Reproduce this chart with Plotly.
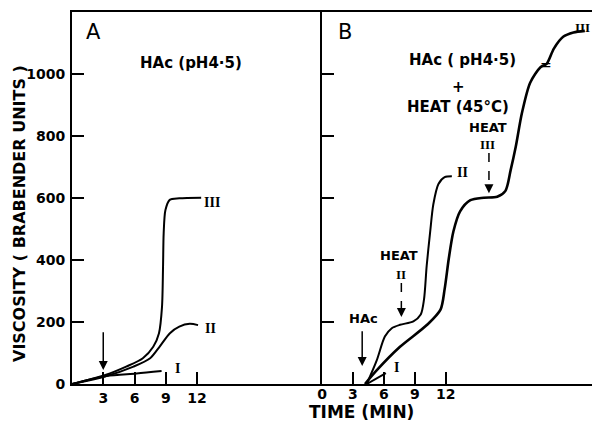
import plotly.graph_objects as go

# ---------------- data ----------------
# Panel A: HAc (pH 4.5)
a_t_III = [0, 3.2, 5.2, 6.8, 7.8, 8.35, 8.64, 8.74, 8.8, 8.97, 9.38, 10.3, 12.4]
a_v_III = [0, 29, 56, 83, 120, 164, 249, 378, 486, 561, 594, 599, 601]
a_t_II = [0, 3.16, 5.9, 7.5, 8.4, 9.4, 10.3, 11.3, 12.1]
a_v_II = [0, 24, 56, 83, 120, 164, 185, 194, 190]
a_t_I = [0, 3.3, 6.2, 8.6]
a_v_I = [0, 26, 34, 42]

# Panel B: HAc (pH 4.5) + heat (45 C)
b_t_III = [4.17, 5.3, 7.57, 10.2, 11.5, 11.9, 12.3, 12.75, 13.4, 14.4, 15.7, 17.0,
           17.8, 18.3, 18.8, 19.4, 20.2, 21.2, 21.8, 22.5, 23.4, 24.4, 25.5]
b_v_III = [0, 44, 120, 191, 240, 306, 404, 492, 557, 593, 601, 604,
           623, 689, 765, 874, 972, 1022, 1033, 1082, 1120, 1134, 1139]
b_t_II = [4.34, 5.31, 6.1, 6.77, 7.57, 8.87, 9.58, 9.9, 10.16, 10.5, 10.8, 11.3, 11.9, 12.6]
b_v_II = [0, 76, 153, 180, 191, 202, 224, 273, 382, 492, 579, 645, 667, 670]
b_t_I = [4.34, 6.2]
b_v_I = [0, 35]

y_ticks = [0, 200, 400, 600, 800, 1000]
a_x_ticks = [3, 6, 9, 12]
b_x_ticks = [0, 3, 6, 9, 12]

FONT = "DejaVu Sans"
SERIF = "Liberation Serif"

fig = go.Figure()

def curve(t, v, xa, ya, w):
    fig.add_trace(go.Scatter(x=t, y=v, xaxis=xa, yaxis=ya, mode="lines",
                             line=dict(color="black", width=w, shape="spline", smoothing=0.8),
                             showlegend=False, hoverinfo="skip"))

curve(a_t_III, a_v_III, "x", "y", 2)
curve(a_t_II, a_v_II, "x", "y", 2)
curve(a_t_I, a_v_I, "x", "y", 2)
curve(b_t_III, b_v_III, "x2", "y2", 2.6)
curve(b_t_II, b_v_II, "x2", "y2", 2)
curve(b_t_I, b_v_I, "x2", "y2", 2)

ydom = [39 / 423, 411 / 423]
axis_common = dict(showgrid=False, zeroline=False, showline=True, linecolor="black",
                   linewidth=2, ticks="inside", ticklen=12, tickwidth=2, tickcolor="black",
                   automargin=False,
                   tickfont=dict(family=FONT, size=14, color="black", weight="bold"))

fig.update_layout(
    width=592, height=423,
    margin=dict(l=0, r=0, t=0, b=0, pad=0),
    paper_bgcolor="white", plot_bgcolor="white",
    xaxis=dict(domain=[72 / 592, 322 / 592], range=[0, 24], anchor="y", mirror=True,
               tickvals=a_x_ticks, ticktext=[str(v) for v in a_x_ticks],
               ticklabelstandoff=0, **axis_common),
    yaxis=dict(domain=ydom, range=[0, 1200], anchor="x",
               tickvals=y_ticks, ticktext=[str(v) for v in y_ticks],
               ticklabelstandoff=2, **axis_common),
    xaxis2=dict(domain=[322 / 592, 1.0], range=[0, 26.2], anchor="y2", mirror=True,
                tickvals=b_x_ticks, ticktext=[str(v) for v in b_x_ticks],
                ticklabelstandoff=-4, **axis_common),
    yaxis2=dict(domain=ydom, range=[0, 1200], anchor="x2",
                tickvals=y_ticks, showticklabels=False, **axis_common),
)

ann = []

def txt(x, y, s, xref="x", yref="y", size=14, fam=FONT, bold=True, xanchor="center"):
    ann.append(dict(x=x, y=y, xref=xref, yref=yref, text=s, showarrow=False,
                    xanchor=xanchor, yanchor="middle",
                    font=dict(family=fam, size=size, color="black",
                              weight="bold" if bold else "normal")))

def arrow(x, y_tip, y_tail, xref, yref):
    ann.append(dict(x=x, y=y_tip, ax=x, ay=y_tail, xref=xref, yref=yref,
                    axref=xref, ayref=yref, text="", showarrow=True,
                    arrowhead=2, arrowsize=1.2, arrowwidth=1.5, arrowcolor="black"))

# axis titles
ann.append(dict(x=20 / 592, y=1 - 214 / 423, xref="paper", yref="paper",
                xanchor="center", yanchor="middle",
                text="VISCOSITY ( BRABENDER UNITS )", textangle=-90, showarrow=False,
                font=dict(family=FONT, size=16, color="black", weight="bold")))
ann.append(dict(x=361 / 592, y=1 - 412 / 423, xref="paper", yref="paper",
                xanchor="center", yanchor="middle",
                text="TIME (MIN)", showarrow=False,
                font=dict(family=FONT, size=17, color="black", weight="bold")))

# panel letters
ann.append(dict(x=93 / 592, y=1 - 32 / 423, xref="paper", yref="paper", text="A",
                xanchor="center", yanchor="middle",
                showarrow=False, font=dict(family=FONT, size=21, color="black")))
ann.append(dict(x=345 / 592, y=1 - 32 / 423, xref="paper", yref="paper", text="B",
                xanchor="center", yanchor="middle",
                showarrow=False, font=dict(family=FONT, size=21, color="black")))

# Panel A labels
txt(11.4, 1034, "HAc (pH4·5)", size=15)
txt(12.5, 587, "III", size=14, fam=SERIF, xanchor="left")
txt(12.6, 180, "II", size=14, fam=SERIF, xanchor="left")
txt(9.7, 51, "I", size=14, fam=SERIF, xanchor="left")
arrow(3, 45, 172, "x", "y")

# Panel B labels
txt(13.6, 1045, "HAc ( pH4·5)", "x2", "y2", size=15)
txt(13.2, 959, "+", "x2", "y2", size=15)
txt(13.15, 895, "HEAT (45°C)", "x2", "y2", size=15)
txt(16.1, 827, "HEAT", "x2", "y2", size=13)
txt(16.1, 771, "III", "x2", "y2", size=13, fam=SERIF)
txt(7.5, 413, "HEAT", "x2", "y2", size=13)
txt(7.7, 352, "II", "x2", "y2", size=13, fam=SERIF)
txt(4.0, 212, "HAc", "x2", "y2", size=13)
arrow(3.9, 58, 175, "x2", "y2")
txt(6.8, 52, "I", "x2", "y2", size=14, fam=SERIF, xanchor="left")
txt(12.9, 681, "II", "x2", "y2", size=14, fam=SERIF, xanchor="left")
txt(25.3, 1150, "III", "x2", "y2", size=13, fam=SERIF)
txt(21.7, 1030, "=", "x2", "y2", size=14, bold=False)

# dashed heat arrows
shapes = []
for xh, top, tip in [(7.7, 326, 216), (16.2, 745, 615)]:
    shapes.append(dict(type="line", xref="x2", yref="y2", x0=xh, x1=xh, y0=top, y1=tip + 15,
                       line=dict(color="black", width=1.5, dash="dash")))
    arrow(xh, tip, tip + 30, "x2", "y2")

fig.update_layout(annotations=ann, shapes=shapes)
fig.write_html("out.html")
